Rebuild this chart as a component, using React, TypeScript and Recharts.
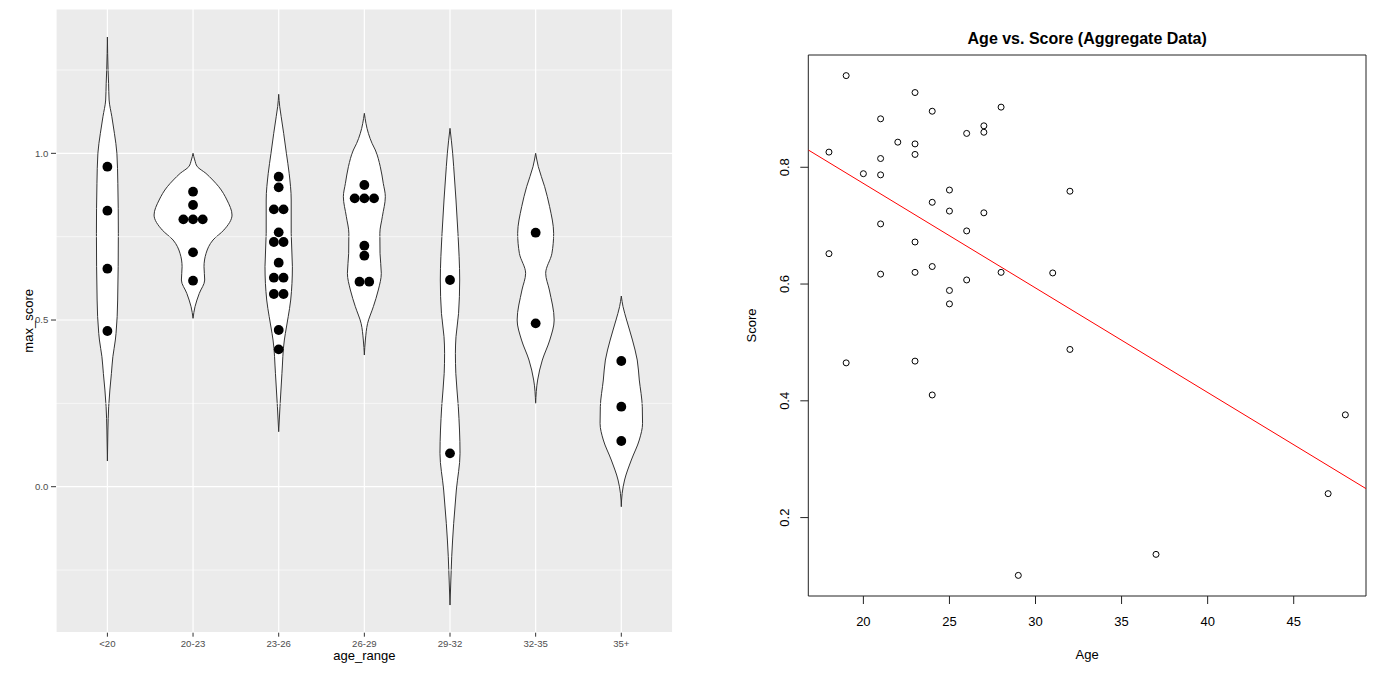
import React from 'react';
import {
  ComposedChart,
  Area,
  Scatter,
  Line,
  XAxis,
  YAxis,
  CartesianGrid,
  ReferenceLine,
  ReferenceArea,
} from 'recharts';

// ---------- left panel: violins + dotplot ----------
const ageRanges = ['<20', '20-23', '23-26', '26-29', '29-32', '32-35', '35+'];

// violin outlines, top to bottom: [score, half width in category units]
const violinUnder20 = [
  [1.349, 0], [1.25, 0.008], [1.21, 0.014], [1.16, 0.02], [1.11, 0.052], [1.06, 0.082],
  [1.0, 0.111], [0.91, 0.122], [0.76, 0.128], [0.56, 0.12], [0.46, 0.101], [0.44, 0.093],
  [0.39, 0.064], [0.34, 0.047], [0.29, 0.029], [0.24, 0.015], [0.17, 0.006], [0.077, 0],
];
const violin20to23 = [
  [1.0, 0], [0.98, 0.02], [0.96, 0.05], [0.94, 0.15], [0.92, 0.23], [0.9, 0.3], [0.86, 0.396],
  [0.815, 0.455], [0.77, 0.36], [0.74, 0.233], [0.7, 0.152], [0.66, 0.128], [0.62, 0.136],
  [0.58, 0.073], [0.54, 0.023], [0.505, 0],
];
const violin23to26 = [
  [1.177, 0], [1.14, 0.012], [1.11, 0.029], [1.06, 0.058], [1.0, 0.09], [0.94, 0.122],
  [0.86, 0.146], [0.76, 0.146], [0.66, 0.16], [0.56, 0.14], [0.51, 0.111], [0.46, 0.078],
  [0.44, 0.066], [0.34, 0.038], [0.24, 0.015], [0.165, 0],
];
const violin26to29 = [
  [1.12, 0], [1.06, 0.047], [1.03, 0.09], [1.01, 0.128], [0.96, 0.186], [0.91, 0.221],
  [0.87, 0.245], [0.81, 0.21], [0.76, 0.181], [0.7, 0.183], [0.64, 0.198], [0.59, 0.163],
  [0.54, 0.105], [0.49, 0.038], [0.44, 0.012], [0.395, 0],
];
const violin29to32 = [
  [1.075, 0], [1.0, 0.031], [0.96, 0.043], [0.86, 0.07], [0.76, 0.093], [0.62, 0.113],
  [0.52, 0.1], [0.45, 0.07], [0.4, 0.063], [0.34, 0.068], [0.24, 0.097], [0.1, 0.117],
  [-0.01, 0.074], [-0.11, 0.043], [-0.21, 0.02], [-0.28, 0.01], [-0.355, 0],
];
const violin32to35 = [
  [1.0, 0], [0.96, 0.031], [0.9, 0.105], [0.84, 0.163], [0.76, 0.21], [0.7, 0.19],
  [0.64, 0.117], [0.59, 0.16], [0.5, 0.216], [0.44, 0.165], [0.38, 0.078], [0.32, 0.023],
  [0.25, 0],
];
const violin35plus = [
  [0.572, 0], [0.54, 0.02], [0.5, 0.062], [0.44, 0.13], [0.38, 0.186], [0.32, 0.21],
  [0.24, 0.245], [0.19, 0.248], [0.14, 0.21], [0.08, 0.117], [0.02, 0.038], [-0.02, 0.01],
  [-0.06, 0],
];
const violins = [
  violinUnder20, violin20to23, violin23to26, violin26to29, violin29to32, violin32to35, violin35plus,
];

// dotplot bins (repeated values stack sideways)
const dotsUnder20 = [0.96, 0.828, 0.654, 0.467];
const dots20to23 = [0.885, 0.845, 0.802, 0.802, 0.802, 0.703, 0.618];
const dots23to26 = [
  0.93, 0.898, 0.832, 0.832, 0.763, 0.734, 0.734, 0.672, 0.627, 0.627, 0.578, 0.578, 0.47, 0.412,
];
const dots26to29 = [0.905, 0.865, 0.865, 0.865, 0.723, 0.693, 0.615, 0.615];
const dots29to32 = [0.62, 0.1];
const dots32to35 = [0.762, 0.49];
const dots35plus = [0.377, 0.24, 0.137];
const dotGroups = [
  dotsUnder20, dots20to23, dots23to26, dots26to29, dots29to32, dots32to35, dots35plus,
];

const scoreMajorTicks = [0, 0.5, 1.0];
const scoreMinorTicks = [-0.25, 0.25, 0.75, 1.25];

// ---------- right panel: scatter + fit ----------
const ages = [
  19, 23, 28, 24, 21, 27, 27, 26, 22, 23, 18, 23, 21, 20, 21, 25, 32, 24, 25, 27,
  21, 26, 23, 18, 24, 21, 23, 28, 31, 26, 25, 25, 19, 23, 32, 24, 29, 48, 47, 37,
];
const scores = [
  0.957, 0.928, 0.903, 0.896, 0.883, 0.871, 0.86, 0.858, 0.843, 0.84, 0.826, 0.822, 0.815,
  0.789, 0.787, 0.761, 0.759, 0.74, 0.725, 0.722, 0.703, 0.691, 0.672, 0.652, 0.63, 0.617,
  0.62, 0.62, 0.619, 0.607, 0.589, 0.566, 0.465, 0.468, 0.488, 0.41, 0.101, 0.376, 0.241, 0.137,
];
const fitAges = [16.8, 49.2];
const fitScores = [0.8296, 0.2496];
const ageTicks = [20, 25, 30, 35, 40, 45];
const scoreTicks = [0.2, 0.4, 0.6, 0.8];
const ageDomain = [16.8, 49.2];
const scoreDomain = [0.0657, 0.9923];

const DOT_STEP = 0.113;
const FONT = '"Liberation Sans", Arial, Helvetica, sans-serif';

const violinData = violins.map((profile, i) =>
  profile.map(([s, w]) => ({ y: s, span: [i + 1 - w, i + 1 + w] })),
);

const dotData = dotGroups.flatMap((vals, i) => {
  const counts = new Map<number, number>();
  vals.forEach((v) => counts.set(v, (counts.get(v) || 0) + 1));
  const seen = new Map<number, number>();
  return vals.map((v) => {
    const n = counts.get(v) || 1;
    const k = seen.get(v) || 0;
    seen.set(v, k + 1);
    return { x: i + 1 + (k - (n - 1) / 2) * DOT_STEP, y: v };
  });
});

const points = ages.map((a, i) => ({ age: a, score: scores[i] }));
const fitLine = fitAges.map((a, i) => ({ age: a, score: fitScores[i] }));

function FilledDot(props: any) {
  return <circle cx={props.cx} cy={props.cy} r={4.9} fill="#000" />;
}

function OpenDot(props: any) {
  return <circle cx={props.cx} cy={props.cy} r={3} fill="none" stroke="#000" strokeWidth={1} />;
}

function RotatedTick(props: any) {
  const { x, y, payload } = props;
  return (
    <text
      x={x}
      y={y}
      transform={`rotate(-90 ${x} ${y})`}
      textAnchor="middle"
      fontSize={13}
      fill="#000"
    >
      {Number(payload.value).toFixed(1)}
    </text>
  );
}

function ViolinPanel() {
  return (
    <ComposedChart
      width={690}
      height={694}
      layout="vertical"
      margin={{ top: 9, right: 17.3, bottom: 0, left: 0 }}
    >
      <CartesianGrid fill="#EBEBEB" stroke="#fff" strokeWidth={1.2} />
      {scoreMinorTicks.map((v) => (
        <ReferenceLine key={v} y={v} stroke="#fff" strokeWidth={0.6} />
      ))}
      <XAxis
        type="number"
        dataKey="x"
        domain={[0.4, 7.6]}
        allowDataOverflow
        ticks={ageRanges.map((_, i) => i + 1)}
        interval={0}
        tickFormatter={(v: number) => ageRanges[v - 1]}
        height={61.3}
        axisLine={false}
        stroke="#333"
        tickSize={4}
        tickMargin={3.3}
        tick={{ fill: '#4D4D4D', fontSize: 9.6 }}
        label={{ value: 'age_range', position: 'insideBottom', offset: 34, fill: '#000', fontSize: 13 }}
      />
      <YAxis
        type="number"
        dataKey="y"
        domain={[-0.438, 1.433]}
        allowDataOverflow
        reversed
        ticks={scoreMajorTicks}
        interval={0}
        tickFormatter={(v: number) => v.toFixed(1)}
        width={56}
        axisLine={false}
        stroke="#333"
        tickSize={5}
        tickMargin={2.7}
        tick={{ fill: '#4D4D4D', fontSize: 9.6 }}
        label={{ value: 'max_score', angle: -90, position: 'center', fill: '#000', fontSize: 13 }}
      />
      {violinData.map((d, i) => (
        <Area
          key={ageRanges[i]}
          data={d}
          dataKey="span"
          type="monotone"
          stroke="#333"
          strokeWidth={1}
          fill="#fff"
          fillOpacity={1}
          dot={false}
          activeDot={false}
          isAnimationActive={false}
        />
      ))}
      <Scatter data={dotData} shape={FilledDot} isAnimationActive={false} />
    </ComposedChart>
  );
}

function ScatterPanel() {
  return (
    <ComposedChart width={696} height={694} margin={{ top: 55, right: 30, bottom: 0, left: 0 }}>
      <XAxis
        type="number"
        dataKey="age"
        domain={ageDomain}
        allowDataOverflow
        ticks={ageTicks}
        interval={0}
        height={98}
        axisLine={false}
        stroke="#222"
        tickSize={8}
        tickMargin={13}
        tick={{ fill: '#000', fontSize: 13 }}
        label={{ value: 'Age', position: 'insideBottom', offset: 35, fill: '#000', fontSize: 13 }}
      />
      <YAxis
        type="number"
        dataKey="score"
        domain={scoreDomain}
        allowDataOverflow
        ticks={scoreTicks}
        interval={0}
        width={108.3}
        axisLine={false}
        stroke="#222"
        tickSize={8}
        tickMargin={10.8}
        tick={<RotatedTick />}
        label={{ value: 'Score', angle: -90, position: 'center', dx: -3, fill: '#000', fontSize: 13 }}
      />
      <ReferenceArea
        x1={ageDomain[0]}
        x2={ageDomain[1]}
        y1={scoreDomain[0]}
        y2={scoreDomain[1]}
        fill="none"
        stroke="#222"
        strokeWidth={1}
        label={{
          value: 'Age vs. Score (Aggregate Data)',
          position: 'top',
          offset: 11,
          fill: '#000',
          fontSize: 16,
          fontWeight: 'bold',
        }}
      />
      <Scatter data={points} shape={OpenDot} isAnimationActive={false} />
      <Line
        data={fitLine}
        dataKey="score"
        type="linear"
        stroke="#FF0000"
        strokeWidth={1}
        dot={false}
        activeDot={false}
        isAnimationActive={false}
      />
    </ComposedChart>
  );
}

export default function App() {
  return (
    <div
      style={{
        position: 'absolute',
        left: 0,
        top: 0,
        width: 1396,
        height: 694,
        background: '#fff',
        fontFamily: FONT,
      }}
    >
      <div style={{ position: 'absolute', left: 0, top: 0 }}>
        <ViolinPanel />
      </div>
      <div style={{ position: 'absolute', left: 700, top: 0 }}>
        <ScatterPanel />
      </div>
    </div>
  );
}
